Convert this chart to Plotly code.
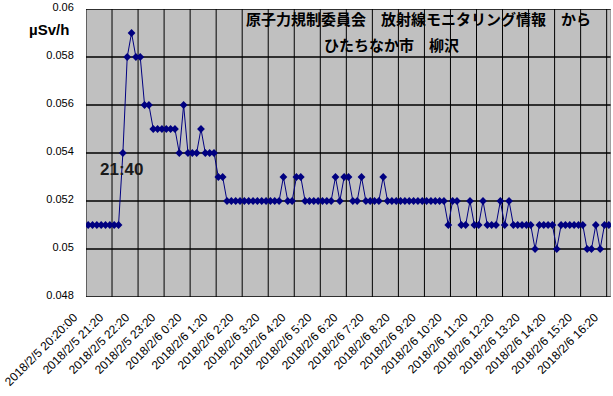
import plotly.graph_objects as go
import pandas as pd

# 10-minute readings, 2018/2/5 20:20 -> 2018/2/6 16:20
start_time = "2018-02-05 20:20"
n_points = 121
values = [
    0.051, 0.051, 0.051, 0.051, 0.051, 0.051, 0.051, 0.051,  # 20:20-21:30
    0.054, 0.058, 0.059, 0.058, 0.058, 0.056, 0.056,          # 21:40-22:40
    0.055, 0.055, 0.055, 0.055, 0.055, 0.055,                  # 22:50-23:40
    0.054, 0.056, 0.054, 0.054, 0.054, 0.055, 0.054, 0.054, 0.054,
    0.053, 0.053,
    0.052, 0.052, 0.052, 0.052, 0.052, 0.052, 0.052, 0.052, 0.052, 0.052, 0.052, 0.052, 0.052,
    0.053, 0.052, 0.052, 0.053, 0.053,
    0.052, 0.052, 0.052, 0.052, 0.052, 0.052, 0.052,
    0.053, 0.052, 0.053, 0.053, 0.052, 0.052, 0.053,
    0.052, 0.052, 0.052, 0.052, 0.053,
    0.052, 0.052, 0.052, 0.052, 0.052, 0.052, 0.052, 0.052, 0.052, 0.052, 0.052, 0.052, 0.052, 0.052,
    0.051, 0.052, 0.052, 0.051, 0.051, 0.052, 0.051, 0.051, 0.052,
    0.051, 0.051, 0.051, 0.052, 0.051, 0.052,
    0.051, 0.051, 0.051, 0.051, 0.051,
    0.050, 0.051, 0.051, 0.051, 0.051,
    0.050, 0.051, 0.051, 0.051, 0.051, 0.051, 0.051,
    0.050, 0.050, 0.051, 0.050, 0.051, 0.051,
]
tick_labels = [
    "2018/2/5 20:20:00", "2018/2/5 21:20", "2018/2/5 22:20", "2018/2/5 23:20",
    "2018/2/6 0:20", "2018/2/6 1:20", "2018/2/6 2:20", "2018/2/6 3:20",
    "2018/2/6 4:20", "2018/2/6 5:20", "2018/2/6 6:20", "2018/2/6 7:20",
    "2018/2/6 8:20", "2018/2/6 9:20", "2018/2/6 10:20", "2018/2/6 11:20",
    "2018/2/6 12:20", "2018/2/6 13:20", "2018/2/6 14:20", "2018/2/6 15:20",
    "2018/2/6 16:20",
]
y_ticks = [0.048, 0.050, 0.052, 0.054, 0.056, 0.058, 0.060]
y_tick_labels = ["0.048", "0.05", "0.052", "0.054", "0.056", "0.058", "0.06"]

FMT = "%Y-%m-%d %H:%M:%S"
times = pd.date_range(start_time, periods=n_points, freq="10min")
half = pd.Timedelta(minutes=5)
tick_pos = [(times[6 * k] - half).strftime(FMT) for k in range(len(tick_labels))]
x_str = [t.strftime(FMT) for t in times]
x_range = [(times[0] - half).strftime(FMT), (times[-1] + half).strftime(FMT)]
y_range = [y_ticks[0], y_ticks[-1]]

# vertical grid lines
vx, vy = [], []
for tp in tick_pos:
    vx += [tp, tp, None]
    vy += [y_range[0], y_range[1], None]

# horizontal grid lines
hx, hy = [], []
for yv in y_ticks:
    hx += [x_range[0], x_range[1], None]
    hy += [yv, yv, None]

fig = go.Figure()
fig.add_trace(go.Scatter(
    x=vx, y=vy, mode="lines", line=dict(color="black", width=1),
    hoverinfo="skip", showlegend=False, cliponaxis=False,
))
fig.add_trace(go.Scatter(
    x=hx, y=hy, mode="lines", line=dict(color="#000000", width=1.6),
    hoverinfo="skip", showlegend=False, cliponaxis=False,
))
fig.add_trace(go.Scatter(
    x=[x_range[1], x_range[1]], y=y_range, mode="lines",
    line=dict(color="#808080", width=1),
    hoverinfo="skip", showlegend=False, cliponaxis=False,
))
fig.add_trace(go.Scatter(
    x=x_str, y=values, mode="lines+markers",
    line=dict(color="#000080", width=1),
    marker=dict(symbol="diamond", size=6, color="#000080"),
    showlegend=False,
))

fig.update_layout(
    width=613, height=396,
    margin=dict(l=86, r=2.4, t=9.3, b=98.7),
    paper_bgcolor="white", plot_bgcolor="#C0C0C0",
    font=dict(family="Arial, Liberation Sans", color="black"),
    xaxis=dict(
        type="date",
        range=x_range, automargin=False,
        tickmode="array", tickvals=tick_pos, ticktext=tick_labels,
        tickangle=-45, tickfont=dict(size=12),
        ticklabelshift=-12, ticklabelstandoff=10, ticklabeloverflow="allow",
        showgrid=False, showline=False, zeroline=False,
        ticks="",
    ),
    yaxis=dict(
        range=y_range, automargin=False,
        tickmode="array", tickvals=y_ticks, ticktext=y_tick_labels,
        tickfont=dict(size=11),
        ticklabelshift=-2, ticklabeloverflow="allow",
        showgrid=False, showline=False, zeroline=False,
        ticks="outside", ticklen=9, tickcolor="rgba(0,0,0,0)",
    ),
    annotations=[
        dict(text="<b>µSv/h</b>", xref="paper", yref="paper",
             x=-0.0705, y=0.928, xanchor="center", yanchor="middle",
             showarrow=False, font=dict(size=15, color="black")),
        dict(text="<b>原子力規制委員会　放射線モニタリング情報　から</b>",
             xref="paper", yref="paper", x=0.301, y=0.966,
             xanchor="left", yanchor="middle", showarrow=False,
             font=dict(family="Noto Sans CJK JP", size=15, color="black")),
        dict(text="<b>ひたちなか市　柳沢</b>",
             xref="paper", yref="paper", x=0.449, y=0.876,
             xanchor="left", yanchor="middle", showarrow=False,
             font=dict(family="Noto Sans CJK JP", size=15, color="black")),
        dict(text="<b>21:40</b>", xref="paper", yref="paper",
             x=0.0667, y=0.442, xanchor="center", yanchor="middle",
             showarrow=False, font=dict(size=17, color="#1a1a1a")),
    ],
)

fig.write_html(
    "out.html",
    config={"displayModeBar": False},
    post_script="document.body.style.margin='0';document.body.style.overflow='hidden';",
)
